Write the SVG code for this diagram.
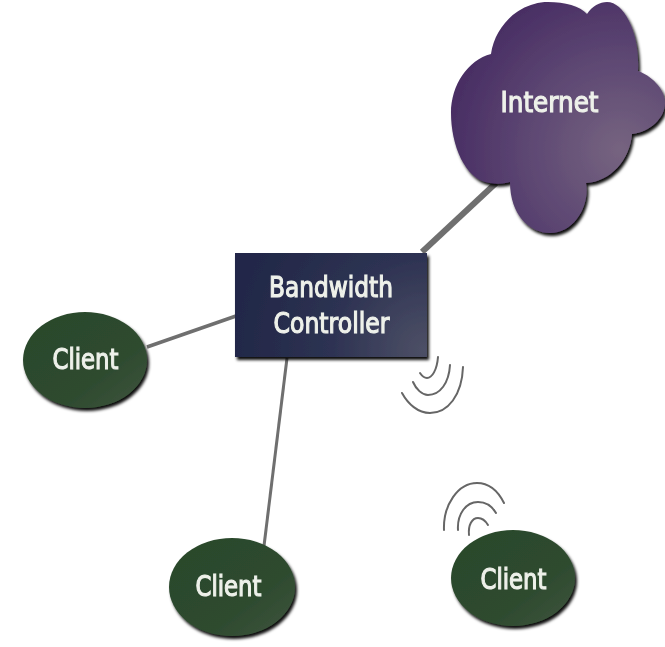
<svg xmlns="http://www.w3.org/2000/svg" width="665" height="647" viewBox="0 0 665 647">
<style>
.label{font-family:"DejaVu Sans","Liberation Sans",sans-serif;font-size:28px;font-weight:400;fill:#eef1ea;text-anchor:middle;stroke:#eef1ea;stroke-width:1.2;filter:url(#soft)}
.link{stroke:#6f6f6f;fill:none;stroke-linecap:butt}
.wave{stroke:#666;stroke-width:2;fill:none;stroke-linecap:round;filter:url(#soft)}
.client{filter:url(#shadow)}
</style>
<defs>
<filter id="shadow" x="-10%" y="-10%" width="125%" height="125%"><feGaussianBlur in="SourceAlpha" stdDeviation="1.5" result="b"/><feOffset in="b" dx="2" dy="3" result="o"/><feFlood flood-color="#000" flood-opacity=".95"/><feComposite in2="o" operator="in" result="s"/><feGaussianBlur in="SourceGraphic" stdDeviation=".5" result="g"/><feMerge><feMergeNode in="s"/><feMergeNode in="g"/></feMerge></filter>
<filter id="soft" x="-10%" y="-10%" width="120%" height="120%"><feGaussianBlur stdDeviation=".55"/></filter>
<radialGradient id="purple" gradientUnits="userSpaceOnUse" cx="620" cy="150" r="175"><stop offset="0" stop-color="#766480"/><stop offset=".55" stop-color="#5c4672"/><stop offset="1" stop-color="#482d63"/></radialGradient>
<radialGradient id="navy" gradientUnits="userSpaceOnUse" cx="425" cy="350" r="190"><stop offset="0" stop-color="#4d5066"/><stop offset=".5" stop-color="#2d3252"/><stop offset="1" stop-color="#222848"/></radialGradient>
<linearGradient id="green" x1="0" y1="0" x2="1" y2="1"><stop offset="0" stop-color="#2a472b"/><stop offset=".65" stop-color="#2e4b2f"/><stop offset="1" stop-color="#40553f"/></linearGradient>
</defs>
<rect width="665" height="647" fill="#fff"/>
<g id="connectors">
<line class="link" x1="422" y1="252" x2="496" y2="183" stroke-width="6"/>
<line class="link" x1="147" y1="347" x2="236" y2="316" stroke-width="3.500"/>
<line class="link" x1="287" y1="358" x2="264" y2="546" stroke-width="3"/>
<path class="wave" d="M438 357C437 370 432 378 427 378C424 378 422 376 420 373"/>
<path class="wave" d="M450 365C449 383 440 395 428 395C422 395 416 389 413 382"/>
<path class="wave" d="M463 367C462 395 448 413 430 413C418 413 408 404 402 393"/>
<path class="wave" d="M444 530C443 505 458 483 477 483C489 483 498 491 504 503"/>
<path class="wave" d="M458 530C457 514 466 502 478 502C486 502 492 506 496 513"/>
<path class="wave" d="M469 535C468 525 472 518 478 518C482 518 485 520 488 525"/>
</g>
<g id="internet">
<path fill="url(#purple)" filter="url(#shadow)" d="M490 183C465 180 451 145 451 113C451 85 468 60 491 54C495 25 520 2 548 2C565 2 580 6 587 14C592 6 600 2 607 2C625 2 640 35 638 71C650 75 665 88 665 103C665 118 650 132 632 134C630 160 610 182 586 183C590 205 575 233 550 233C530 233 510 215 510 182C503 184 497 184 490 183Z"/>
<text class="label" x="549.500" y="112" textLength="98" lengthAdjust="spacingAndGlyphs">Internet</text>
</g>
<g id="controller">
<rect x="235" y="253" width="192" height="104" fill="url(#navy)" filter="url(#shadow)"/>
<text class="label" x="331" y="297" textLength="124" lengthAdjust="spacingAndGlyphs">Bandwidth</text>
<text class="label" x="331.500" y="333" textLength="116" lengthAdjust="spacingAndGlyphs">Controller</text>
</g>
<g id="client-left">
<ellipse class="client" fill="url(#green)" cx="85" cy="360" rx="62" ry="48"/>
<text class="label" x="85.500" y="369" textLength="66" lengthAdjust="spacingAndGlyphs">Client</text>
</g>
<g id="client-bottom">
<ellipse class="client" fill="url(#green)" cx="232" cy="587" rx="63" ry="49"/>
<text class="label" x="228.500" y="596" textLength="66" lengthAdjust="spacingAndGlyphs">Client</text>
</g>
<g id="client-right">
<ellipse class="client" fill="url(#green)" cx="513" cy="578" rx="62" ry="48"/>
<text class="label" x="513.500" y="589" textLength="66" lengthAdjust="spacingAndGlyphs">Client</text>
</g>
</svg>
